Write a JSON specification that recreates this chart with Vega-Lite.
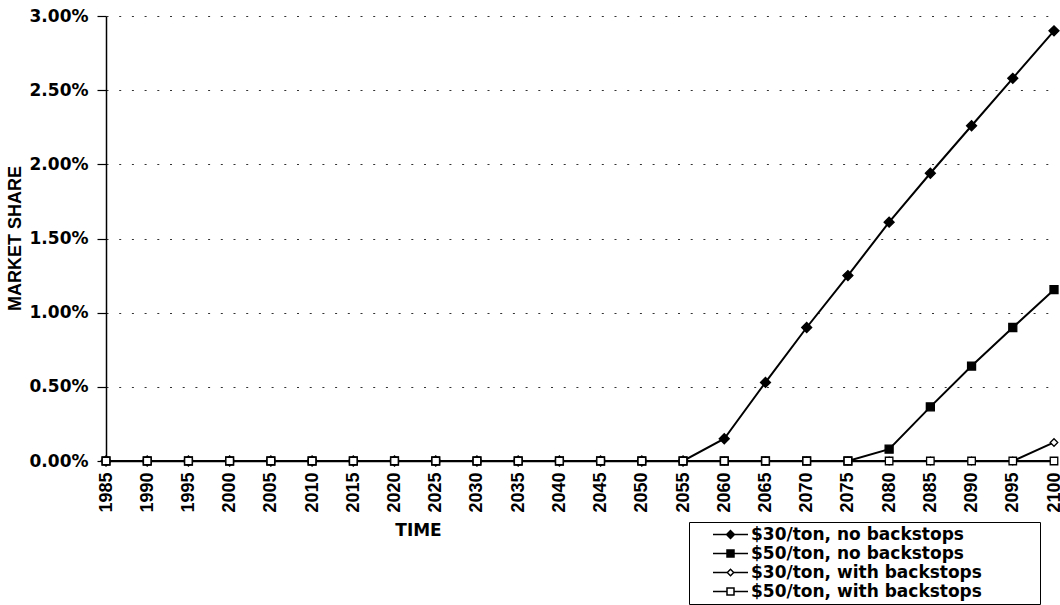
{
  "$schema": "https://vega.github.io/schema/vega-lite/v6.json",
  "width": 948,
  "height": 445,
  "autosize": "none",
  "padding": {"left": 106, "top": 16, "right": 6, "bottom": 144},
  "background": "white",
  "config": {
    "view": {"stroke": null},
    "axis": {"domainColor": "black", "tickColor": "black", "labelColor": "black", "titleColor": "black"}
  },
  "data": {
    "values": [
      {"year": 1985, "series": "$30/ton, no backstops", "share": 0},
      {"year": 1990, "series": "$30/ton, no backstops", "share": 0},
      {"year": 1995, "series": "$30/ton, no backstops", "share": 0},
      {"year": 2000, "series": "$30/ton, no backstops", "share": 0},
      {"year": 2005, "series": "$30/ton, no backstops", "share": 0},
      {"year": 2010, "series": "$30/ton, no backstops", "share": 0},
      {"year": 2015, "series": "$30/ton, no backstops", "share": 0},
      {"year": 2020, "series": "$30/ton, no backstops", "share": 0},
      {"year": 2025, "series": "$30/ton, no backstops", "share": 0},
      {"year": 2030, "series": "$30/ton, no backstops", "share": 0},
      {"year": 2035, "series": "$30/ton, no backstops", "share": 0},
      {"year": 2040, "series": "$30/ton, no backstops", "share": 0},
      {"year": 2045, "series": "$30/ton, no backstops", "share": 0},
      {"year": 2050, "series": "$30/ton, no backstops", "share": 0},
      {"year": 2055, "series": "$30/ton, no backstops", "share": 0},
      {"year": 2060, "series": "$30/ton, no backstops", "share": 0.0015},
      {"year": 2065, "series": "$30/ton, no backstops", "share": 0.0053},
      {"year": 2070, "series": "$30/ton, no backstops", "share": 0.009},
      {"year": 2075, "series": "$30/ton, no backstops", "share": 0.0125},
      {"year": 2080, "series": "$30/ton, no backstops", "share": 0.0161},
      {"year": 2085, "series": "$30/ton, no backstops", "share": 0.0194},
      {"year": 2090, "series": "$30/ton, no backstops", "share": 0.0226},
      {"year": 2095, "series": "$30/ton, no backstops", "share": 0.0258},
      {"year": 2100, "series": "$30/ton, no backstops", "share": 0.029},
      {"year": 1985, "series": "$50/ton, no backstops", "share": 0},
      {"year": 1990, "series": "$50/ton, no backstops", "share": 0},
      {"year": 1995, "series": "$50/ton, no backstops", "share": 0},
      {"year": 2000, "series": "$50/ton, no backstops", "share": 0},
      {"year": 2005, "series": "$50/ton, no backstops", "share": 0},
      {"year": 2010, "series": "$50/ton, no backstops", "share": 0},
      {"year": 2015, "series": "$50/ton, no backstops", "share": 0},
      {"year": 2020, "series": "$50/ton, no backstops", "share": 0},
      {"year": 2025, "series": "$50/ton, no backstops", "share": 0},
      {"year": 2030, "series": "$50/ton, no backstops", "share": 0},
      {"year": 2035, "series": "$50/ton, no backstops", "share": 0},
      {"year": 2040, "series": "$50/ton, no backstops", "share": 0},
      {"year": 2045, "series": "$50/ton, no backstops", "share": 0},
      {"year": 2050, "series": "$50/ton, no backstops", "share": 0},
      {"year": 2055, "series": "$50/ton, no backstops", "share": 0},
      {"year": 2060, "series": "$50/ton, no backstops", "share": 0},
      {"year": 2065, "series": "$50/ton, no backstops", "share": 0},
      {"year": 2070, "series": "$50/ton, no backstops", "share": 0},
      {"year": 2075, "series": "$50/ton, no backstops", "share": 0},
      {"year": 2080, "series": "$50/ton, no backstops", "share": 0.0008},
      {"year": 2085, "series": "$50/ton, no backstops", "share": 0.00365},
      {"year": 2090, "series": "$50/ton, no backstops", "share": 0.0064},
      {"year": 2095, "series": "$50/ton, no backstops", "share": 0.009},
      {"year": 2100, "series": "$50/ton, no backstops", "share": 0.01155},
      {"year": 1985, "series": "$30/ton, with backstops", "share": 0},
      {"year": 1990, "series": "$30/ton, with backstops", "share": 0},
      {"year": 1995, "series": "$30/ton, with backstops", "share": 0},
      {"year": 2000, "series": "$30/ton, with backstops", "share": 0},
      {"year": 2005, "series": "$30/ton, with backstops", "share": 0},
      {"year": 2010, "series": "$30/ton, with backstops", "share": 0},
      {"year": 2015, "series": "$30/ton, with backstops", "share": 0},
      {"year": 2020, "series": "$30/ton, with backstops", "share": 0},
      {"year": 2025, "series": "$30/ton, with backstops", "share": 0},
      {"year": 2030, "series": "$30/ton, with backstops", "share": 0},
      {"year": 2035, "series": "$30/ton, with backstops", "share": 0},
      {"year": 2040, "series": "$30/ton, with backstops", "share": 0},
      {"year": 2045, "series": "$30/ton, with backstops", "share": 0},
      {"year": 2050, "series": "$30/ton, with backstops", "share": 0},
      {"year": 2055, "series": "$30/ton, with backstops", "share": 0},
      {"year": 2060, "series": "$30/ton, with backstops", "share": 0},
      {"year": 2065, "series": "$30/ton, with backstops", "share": 0},
      {"year": 2070, "series": "$30/ton, with backstops", "share": 0},
      {"year": 2075, "series": "$30/ton, with backstops", "share": 0},
      {"year": 2080, "series": "$30/ton, with backstops", "share": 0},
      {"year": 2085, "series": "$30/ton, with backstops", "share": 0},
      {"year": 2090, "series": "$30/ton, with backstops", "share": 0},
      {"year": 2095, "series": "$30/ton, with backstops", "share": 0},
      {"year": 2100, "series": "$30/ton, with backstops", "share": 0.00125},
      {"year": 1985, "series": "$50/ton, with backstops", "share": 0},
      {"year": 1990, "series": "$50/ton, with backstops", "share": 0},
      {"year": 1995, "series": "$50/ton, with backstops", "share": 0},
      {"year": 2000, "series": "$50/ton, with backstops", "share": 0},
      {"year": 2005, "series": "$50/ton, with backstops", "share": 0},
      {"year": 2010, "series": "$50/ton, with backstops", "share": 0},
      {"year": 2015, "series": "$50/ton, with backstops", "share": 0},
      {"year": 2020, "series": "$50/ton, with backstops", "share": 0},
      {"year": 2025, "series": "$50/ton, with backstops", "share": 0},
      {"year": 2030, "series": "$50/ton, with backstops", "share": 0},
      {"year": 2035, "series": "$50/ton, with backstops", "share": 0},
      {"year": 2040, "series": "$50/ton, with backstops", "share": 0},
      {"year": 2045, "series": "$50/ton, with backstops", "share": 0},
      {"year": 2050, "series": "$50/ton, with backstops", "share": 0},
      {"year": 2055, "series": "$50/ton, with backstops", "share": 0},
      {"year": 2060, "series": "$50/ton, with backstops", "share": 0},
      {"year": 2065, "series": "$50/ton, with backstops", "share": 0},
      {"year": 2070, "series": "$50/ton, with backstops", "share": 0},
      {"year": 2075, "series": "$50/ton, with backstops", "share": 0},
      {"year": 2080, "series": "$50/ton, with backstops", "share": 0},
      {"year": 2085, "series": "$50/ton, with backstops", "share": 0},
      {"year": 2090, "series": "$50/ton, with backstops", "share": 0},
      {"year": 2095, "series": "$50/ton, with backstops", "share": 0},
      {"year": 2100, "series": "$50/ton, with backstops", "share": 0}
    ]
  },
  "encoding": {
    "x": {
      "field": "year", "type": "quantitative",
      "scale": {"domain": [1985, 2100], "nice": false, "zero": false},
      "axis": {
        "title": "TIME",
        "values": [1985,1990,1995,2000,2005,2010,2015,2020,2025,2030,2035,2040,2045,2050,2055,2060,2065,2070,2075,2080,2085,2090,2095,2100],
        "format": "d", "labelAngle": -90, "labelAlign": "right", "labelBaseline": "middle",
        "labelFont": "Liberation Sans", "labelFontWeight": "bold", "labelFontSize": 18, "labelPadding": 11,
        "labelOverlap": false, "labelFlush": false,
        "ticks": false, "grid": false, "domainWidth": 1.5,
        "titleFont": "DejaVu Sans", "titleFontWeight": "bold", "titleFontSize": 17,
        "titleX": 312, "titleY": 69, "titleAlign": "center", "titleBaseline": "middle"
      }
    },
    "y": {
      "field": "share", "type": "quantitative",
      "scale": {"domain": [0, 0.03], "nice": false},
      "axis": {
        "title": "MARKET SHARE",
        "values": [0, 0.005, 0.01, 0.015, 0.02, 0.025, 0.03],
        "format": ".2%",
        "labelFont": "DejaVu Sans", "labelFontWeight": "bold", "labelFontSize": 17, "labelPadding": 9,
        "labelFlush": false,
        "tickSize": 9, "tickWidth": 1.2, "domainWidth": 1.5,
        "grid": true, "gridColor": "#333333", "gridDash": [2, 10.7], "gridWidth": 1.2,
        "titleFont": "Liberation Sans", "titleFontWeight": "bold", "titleFontSize": 18,
        "titleX": -91, "titleY": 222, "titleAngle": -90, "titleAlign": "center", "titleBaseline": "middle"
      }
    }
  },
  "layer": [
    {
      "mark": {"type": "line", "color": "black", "strokeWidth": 2},
      "encoding": {"detail": {"field": "series"}}
    },
    {
      "mark": {"type": "point", "filled": false, "size": 100, "stroke": "black", "strokeWidth": 1.3, "opacity": 1},
      "encoding": {
        "shape": {
          "field": "series", "type": "nominal",
          "scale": {
            "domain": ["$30/ton, no backstops", "$50/ton, no backstops", "$30/ton, with backstops", "$50/ton, with backstops"],
            "range": ["M-1,0L0,-1L1,0L0,1Z", "M-0.8,-0.8L0.8,-0.8L0.8,0.8L-0.8,0.8Z", "M-0.75,0L0,-0.75L0.75,0L0,0.75Z", "M-0.75,-0.75L0.75,-0.75L0.75,0.75L-0.75,0.75Z"]
          },
          "legend": null
        },
        "fill": {
          "field": "series", "type": "nominal",
          "scale": {
            "domain": ["$30/ton, no backstops", "$50/ton, no backstops", "$30/ton, with backstops", "$50/ton, with backstops"],
            "range": ["black", "black", "white", "white"]
          },
          "legend": null
        }
      }
    },
    {
      "transform": [{"filter": "datum.year < 0"}],
      "mark": {"type": "point", "filled": true, "color": "black", "opacity": 1},
      "encoding": {
        "shape": {
          "field": "series", "type": "nominal",
          "scale": {
            "domain": ["$30/ton, no backstops", "$50/ton, no backstops", "$30/ton, with backstops", "$50/ton, with backstops"],
            "range": [
              "M-3.5,-0.15L3.5,-0.15L3.5,0.15L-3.5,0.15ZM-1,0L0,-1L1,0L0,1Z",
              "M-3.5,-0.15L3.5,-0.15L3.5,0.15L-3.5,0.15ZM-0.85,-0.85L0.85,-0.85L0.85,0.85L-0.85,0.85Z",
              "M-3.5,-0.15L-0.7,-0.15L-0.7,0.15L-3.5,0.15ZM0.7,-0.15L3.5,-0.15L3.5,0.15L0.7,0.15ZM-0.85,0L0,-0.85L0.85,0L0,0.85ZM-0.45,0L0,0.45L0.45,0L0,-0.45Z",
              "M-3.5,-0.15L-0.75,-0.15L-0.75,0.15L-3.5,0.15ZM0.75,-0.15L3.5,-0.15L3.5,0.15L0.75,0.15ZM-0.85,-0.85L0.85,-0.85L0.85,0.85L-0.85,0.85ZM-0.55,-0.55L-0.55,0.55L0.55,0.55L0.55,-0.55Z"
            ]
          },
          "legend": {
            "title": null,
            "orient": "none",
            "legendX": 583,
            "legendY": 506,
            "padding": 4,
            "strokeColor": "black",
            "fillColor": "white",
            "symbolSize": 100,
            "symbolFillColor": "black",
            "symbolOpacity": 1,
            "symbolOffset": 29,
            "labelOffset": 12,
            "rowPadding": 1,
            "labelFont": "DejaVu Sans",
            "labelFontWeight": "bold",
            "labelFontSize": 17,
            "labelColor": "black",
            "labelLimit": 400,
            "labelExpr": "datum.label + '\u2800\u2800\u2800\u2800'"
          }
        }
      }
    }
  ],
  "resolve": {"scale": {"shape": "independent", "fill": "independent"}}
}
